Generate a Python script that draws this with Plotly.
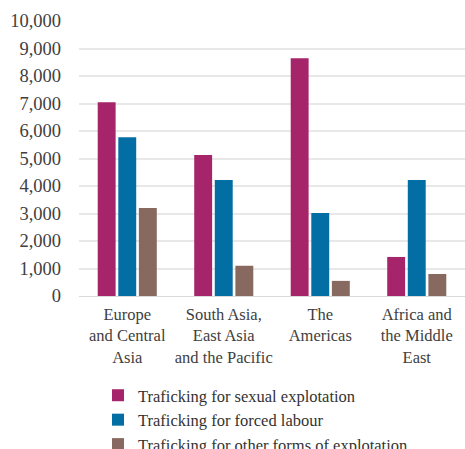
import plotly.graph_objects as go

categories = ["Europe<br>and Central<br>Asia", "South Asia,<br>East Asia<br>and the Pacific",
              "The<br>Americas", "Africa and<br>the Middle<br>East"]
cat_keys = ["Europe", "SouthAsia", "Americas", "Africa"]
sexual = [7050, 5130, 8650, 1420]
forced = [5770, 4220, 3020, 4220]
other = [3200, 1100, 550, 800]
series_names = ["Traficking for sexual explotation", "Traficking for forced labour",
                "Traficking for other forms of explotation"]
colors = ["#A6256A", "#036EA4", "#87695F"]
ytickvals = list(range(0, 10001, 1000))
yticktext = [f"{v:,}" for v in ytickvals]

FONT = "Liberation Serif"
W, H = 465, 449
fig = go.Figure()
for name, vals, c in zip(series_names, [sexual, forced, other], colors):
    fig.add_trace(go.Bar(x=cat_keys, y=vals, name=name, marker_color=c, marker_line_width=0))

fig.update_layout(
    width=W, height=H,
    margin=dict(l=79, r=0, t=21, b=153, autoexpand=False),
    paper_bgcolor="white", plot_bgcolor="white",
    barmode="group", bargap=0.36, bargroupgap=0.13,
    font=dict(family=FONT, color="#404040"),
    showlegend=True,
    legend=dict(orientation="v", x=98 / W, xref="container", xanchor="left",
                y=(H - 378) / H, yref="container", yanchor="top",
                font=dict(family=FONT, size=16.5, color="#333333"),
                bgcolor="rgba(0,0,0,0)", tracegroupgap=0),
)
fig.update_xaxes(tickmode="array", tickvals=cat_keys, ticktext=categories,
                 tickfont=dict(family=FONT, size=16.5, color="#404040"),
                 showgrid=False, showline=True, linecolor="#d9d9d9", linewidth=1,
                 ticks="", fixedrange=True, automargin=False, ticklabelstandoff=3)
fig.update_yaxes(range=[0, 10000], tickvals=ytickvals, ticktext=yticktext,
                 tickfont=dict(family=FONT, size=18.5, color="#404040"),
                 showgrid=True, gridcolor="#e8e8e8", gridwidth=2,
                 zeroline=False, showline=False, ticks="", ticklabelstandoff=17,
                 automargin=False)

fig.write_html("out.html")
